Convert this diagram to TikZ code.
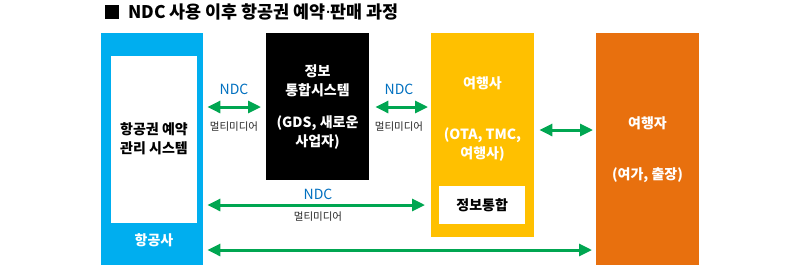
\documentclass[tikz,border=0pt]{standalone}
\usepackage{fontspec}
\setmainfont{Noto Sans CJK KR}
\newfontfamily\latinfont{Noto Sans}
\usetikzlibrary{arrows.meta}
\definecolor{cblue}{HTML}{00AEEF}
\definecolor{cyellow}{HTML}{FFC000}
\definecolor{corange}{HTML}{E8700E}
\definecolor{cgreen}{HTML}{00A651}
\definecolor{cndc}{HTML}{0070C0}
\tikzset{
  box/.style={draw=none, inner sep=0pt, anchor=north west},
  btxt/.style={inner sep=0pt, font=\fontsize{14}{19}\selectfont\bfseries, align=center},
  ndc/.style={inner sep=0pt, text=cndc, font=\fontsize{14}{16}\selectfont},
  mm/.style={inner sep=0pt, text=black!85, font=\fontsize{10.5}{12}\selectfont},
  dbl/.style={draw=cgreen, line width=3pt, {Triangle[length=13pt,width=12pt]}-{Triangle[length=13pt,width=12pt]}},
}
\begin{document}
\begin{tikzpicture}[x=1pt,y=-1pt]
\useasboundingbox[fill=white] (0,0) rectangle (800,266);
% title
\node[box, fill=black, minimum width=14pt, minimum height=14pt] (tsq) at (105,5) {};
\node[inner sep=0pt, anchor=west, font=\fontsize{17.4}{19}\selectfont\bfseries] (title) at (128,12) {NDC 사용 이후 항공권 예약{\latinfont\bfseries ·}판매 과정};
% blue airline box
\node[box, fill=cblue, minimum width=102pt, minimum height=232pt] (air) at (101,33) {};
\node[box, fill=white, minimum width=86pt, minimum height=167pt] (airin) at (111,56) {};
\node[btxt] (airtxt) at (154,139) {항공권 예약\\관리 시스템};
\node[btxt, text=white] (airname) at (154,240) {항공사};
% black GDS box
\node[box, fill=black, minimum width=103pt, minimum height=147pt] (gds) at (266,33) {};
\node[btxt, text=white] (gds1) at (317.5,80.5) {정보\\통합시스템};
\node[btxt, text=white] (gds2) at (317.5,133) {(GDS, 새로운\\사업자)};
% yellow travel agency box
\node[box, fill=cyellow, minimum width=103pt, minimum height=204pt] (ta) at (431,33) {};
\node[btxt, text=white] (ta1) at (482.5,83) {여행사};
\node[btxt, text=white] (ta2) at (482.5,144.5) {(OTA, TMC,\\여행사)};
\node[box, fill=white, minimum width=86pt, minimum height=38pt] (tain) at (439,186) {};
\node[btxt] (taintxt) at (tain.center) {정보통합};
% orange traveller box
\node[box, fill=corange, minimum width=103pt, minimum height=232pt] (trav) at (596,33) {};
\node[btxt, text=white] (trav1) at (647.5,123) {여행자};
\node[btxt, text=white] (trav2) at (647.5,175) {(여가, 출장)};
% arrows
\draw[dbl] ([xshift=4pt]air.east |- 0,107) -- ([xshift=-5pt]gds.west |- 0,107);
\node[ndc] (ndc1) at (234,89) {NDC};
\node[mm] (mm1) at (234,127) {멀티미디어};
\draw[dbl] ([xshift=6pt]gds.east |- 0,107) -- ([xshift=-3pt]ta.west |- 0,107);
\node[ndc] (ndc2) at (399,89) {NDC};
\node[mm] (mm2) at (399,127) {멀티미디어};
\draw[dbl] ([xshift=4pt]air.east |- 0,205) -- ([xshift=-6pt]ta.west |- 0,205);
\node[ndc] (ndc3) at (318,194) {NDC};
\node[mm] (mm3) at (318,217) {멀티미디어};
\draw[dbl] ([xshift=4pt]air.east |- 0,250) -- ([xshift=-4pt]trav.west |- 0,250);
\draw[dbl] ([xshift=5pt]ta.east |- 0,130) -- ([xshift=-3pt]trav.west |- 0,130);
\end{tikzpicture}
\end{document}
